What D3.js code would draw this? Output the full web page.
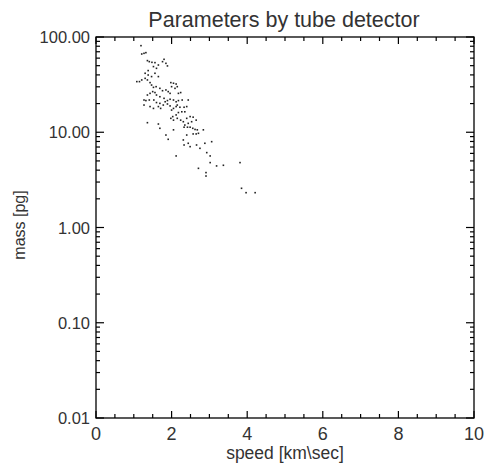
<!DOCTYPE html>
<html><head><meta charset="utf-8">
<script src="https://cdn.jsdelivr.net/npm/d3@7"></script>
<style>body{margin:0;background:#fff}text{font-family:"Liberation Sans",Arial,sans-serif}</style>
</head><body><svg id="c" width="503" height="475"></svg>
<script>
const title = "Parameters by tube detector";
const xLabel = "speed [km\\sec]";
const yLabel = "mass [pg]";
const xTicks = [0, 2, 4, 6, 8, 10];
const yTicks = [100, 10, 1, 0.1, 0.01];
const yTickLabels = ["100.00", "10.00", "1.00", "0.10", "0.01"];
const speed = [1.19,1.21,1.27,1.32,1.36,1.41,1.48,1.56,1.65,1.76,1.80,1.85,1.89,1.52,1.60,1.38,1.30,1.38,1.47,1.56,1.65,1.08,1.15,1.21,1.30,1.36,1.43,1.47,1.52,1.59,1.69,1.76,1.85,1.91,1.98,2.05,2.12,2.15,2.09,2.00,1.96,2.18,2.24,2.28,2.18,2.12,2.05,1.96,1.89,1.80,1.69,1.60,1.56,1.50,1.43,1.36,1.27,1.32,1.41,1.53,1.60,1.69,1.65,1.71,1.78,1.83,1.89,1.96,2.00,2.05,2.12,2.15,2.22,2.33,2.44,2.40,2.35,2.27,2.18,2.12,2.03,1.98,2.05,2.15,2.24,2.31,2.40,2.49,2.57,2.65,2.53,2.44,2.35,2.33,2.42,2.49,2.56,2.62,2.68,2.71,2.65,2.57,2.84,1.27,1.43,1.52,1.36,1.65,1.69,1.85,1.91,2.05,2.31,2.40,2.44,2.33,2.49,2.66,2.75,2.88,2.93,3.06,3.02,2.12,2.71,2.91,2.91,3.02,3.19,3.37,3.81,3.85,3.97,4.21];
const mass = [81.1,66.3,67.4,68.5,56.5,55.1,54.2,53.8,50.8,55.1,58.3,52.9,49.7,48.9,46.9,44.4,41.6,39.9,38.4,41.6,38.4,34.0,34.0,35.4,36.8,35.4,33.2,31.3,29.6,30.1,28.9,27.3,27.8,26.7,33.2,32.7,32.1,30.1,28.9,30.1,25.6,25.6,26.1,21.8,21.5,20.9,21.8,22.2,21.5,22.7,23.6,24.6,26.1,26.7,25.6,24.6,21.8,21.5,21.8,21.8,20.5,20.1,18.6,17.8,19.3,20.9,19.8,18.9,17.1,17.8,18.6,19.3,18.3,18.3,21.8,18.6,16.4,16.4,16.1,15.2,14.6,14.0,13.4,14.0,13.4,12.9,14.0,14.6,14.4,13.4,12.9,12.4,11.9,11.3,11.3,11.3,11.0,10.7,10.6,9.75,9.6,9.6,10.6,19.3,18.6,17.8,12.6,12.2,11.0,9.35,8.43,10.6,8.3,9.35,7.66,7.35,7.06,7.35,6.78,7.66,6.11,7.96,5.64,5.64,4.18,3.77,3.47,4.80,4.43,4.5,4.8,2.58,2.32,2.32];

const svg = d3.select("#c");
const L = 96, R = 474, T = 37, B = 418;
const x = d3.scaleLinear().domain([0, 10]).range([L, R]);
const y = d3.scaleLog().domain([0.01, 100]).range([B, T]);
const ink = "#000", txt = "#333";

svg.append("rect").attr("x", L).attr("y", T).attr("width", R - L).attr("height", B - T)
  .attr("fill", "none").attr("stroke", ink).attr("stroke-width", 1.3);

const xMinor = d3.range(0, 10.001, 0.5);
const xt = svg.append("g");
xMinor.forEach(v => {
  const major = xTicks.includes(Math.round(v * 10) / 10);
  const len = major ? 7 : 4;
  xt.append("line").attr("x1", x(v)).attr("x2", x(v)).attr("y1", B).attr("y2", B - len).attr("stroke", ink).attr("stroke-width", 1.2);
  xt.append("line").attr("x1", x(v)).attr("x2", x(v)).attr("y1", T).attr("y2", T + len).attr("stroke", ink).attr("stroke-width", 1.2);
});
xTicks.forEach(v => {
  svg.append("text").attr("x", x(v)).attr("y", 440).attr("text-anchor", "middle")
    .attr("font-size", 18).attr("fill", txt).text(v);
});

const yt = svg.append("g");
const yMinor = [];
[0.01, 0.1, 1, 10].forEach(d => { for (let k = 1; k <= 9; k++) yMinor.push(d * k); });
yMinor.push(100);
yMinor.forEach(v => {
  const major = Math.abs(Math.log10(v) - Math.round(Math.log10(v))) < 1e-9;
  const len = major ? 8 : 4;
  yt.append("line").attr("x1", L).attr("x2", L + len).attr("y1", y(v)).attr("y2", y(v)).attr("stroke", ink).attr("stroke-width", 1.2);
  yt.append("line").attr("x1", R).attr("x2", R - len).attr("y1", y(v)).attr("y2", y(v)).attr("stroke", ink).attr("stroke-width", 1.2);
});
yTicks.forEach((v, i) => {
  svg.append("text").attr("x", 90).attr("y", y(v) + 6).attr("text-anchor", "end")
    .attr("font-size", 16.5).attr("fill", txt).text(yTickLabels[i]);
});

const pts = speed.map((s, i) => ({ s, m: mass[i] }));
svg.append("g").selectAll("rect").data(pts).join("rect")
  .attr("x", d => x(d.s) - 0.8).attr("y", d => y(d.m) - 0.8)
  .attr("width", 1.6).attr("height", 1.6).attr("fill", "#222");

svg.append("text").attr("x", 284).attr("y", 27).attr("text-anchor", "middle")
  .attr("font-size", 21.5).attr("fill", txt).text(title);
svg.append("text").attr("x", 285).attr("y", 459).attr("text-anchor", "middle")
  .attr("font-size", 17.5).attr("fill", txt).text(xLabel);
svg.append("text").attr("transform", "translate(25,225) rotate(-90)").attr("text-anchor", "middle")
  .attr("font-size", 16).attr("fill", txt).text(yLabel);
</script></body></html>
